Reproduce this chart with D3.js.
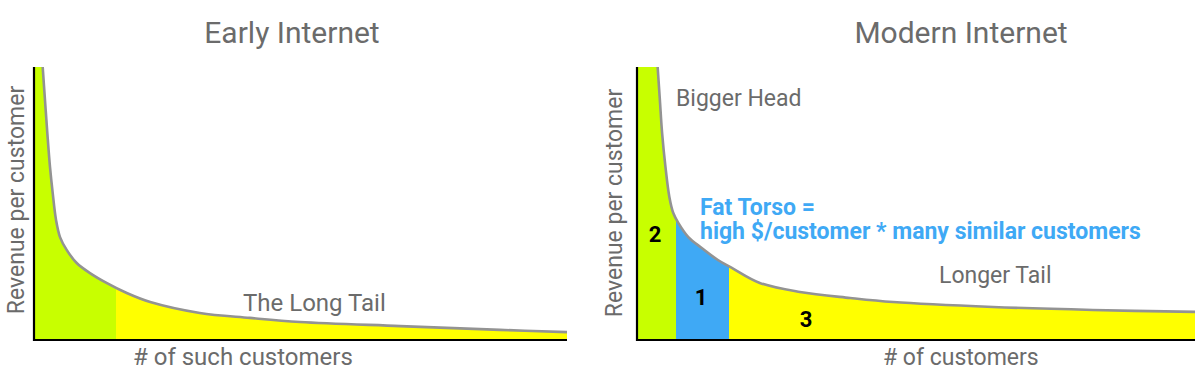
<!DOCTYPE html>
<html><head><meta charset="utf-8">
<script src="https://cdn.jsdelivr.net/npm/d3@7"></script>
<style>body{margin:0;background:#fff}text{font-family:Roboto,"Noto Sans",sans-serif}</style>
</head><body>
<svg id="c" width="1200" height="388"></svg>
<script>
// Early Internet curve (customer rank %, revenue %)
const earlyX = [1.63, 2.06, 2.5, 3.0, 3.51, 4.13, 4.88, 6.13, 8.01, 10.5, 13.6, 17.4, 21.8, 31.1, 40.5, 49.9, 68.7, 87.4, 100];
const earlyY = [100, 87.9, 75.8, 63.4, 53.8, 44.0, 37.7, 33.0, 28.2, 24.5, 20.9, 17.2, 13.9, 9.9, 8.1, 6.6, 5.1, 3.7, 2.9];
const earlySplits = [15.4];
// Modern Internet curve
const modernX = [3.7, 4.1, 4.5, 5.1, 5.8, 6.5, 7.4, 9.2, 11.6, 14.5, 17.0, 22.0, 29.2, 38.2, 45.9, 63.8, 81.7, 100];
const modernY = [100, 87.9, 75.8, 63.4, 52.4, 46.5, 42.9, 37.7, 33.7, 29.3, 26.4, 20.9, 17.6, 15.4, 13.9, 12.1, 11.0, 10.3];
const modernSplits = [7.0, 16.5];
const titles = ["Early Internet", "Modern Internet"];
const xLabels = ["# of such customers", "# of customers"];
const yLabel = "Revenue per customer";

const svg = d3.select("#c");
const gray = "#6b6b6b";

function panel(cfg){
  const x = d3.scaleLinear().domain([0,100]).range([cfg.x0, cfg.x1]);
  const y = d3.scaleLinear().domain([0,100]).range([340, 67]);
  const data = cfg.xs.map((v,i)=>[v, cfg.ys[i]]);
  const g = svg.append("g");
  const bounds = [cfg.xs[0], ...cfg.splits, 100];
  const curve = d3.curveCatmullRom.alpha(0.5);
  const area = d3.area().x(d=>x(d[0])).y0(y(0)).y1(d=>y(d[1])).curve(curve);
  const line = d3.line().x(d=>x(d[0])).y(d=>y(d[1])).curve(curve);
  for(let i=0;i<bounds.length-1;i++){
    const id = cfg.id + "clip" + i;
    const a = i===0 ? 0 : bounds[i];
    svg.append("clipPath").attr("id", id).append("rect")
      .attr("x", x(a)).attr("y", 0).attr("width", x(bounds[i+1]) - x(a)).attr("height", 400);
    g.append("path").datum(data).attr("d", area).attr("fill", cfg.colors[i]).attr("clip-path", `url(#${id})`);
    if(i===0){
      g.append("rect").attr("x", x(0)).attr("y", y(100)).attr("width", x(cfg.xs[0]) - x(0) + 0.5).attr("height", y(0)-y(100)).attr("fill", cfg.colors[0]);
    }
  }
  g.append("path").datum(data).attr("d", line).attr("fill","none").attr("stroke","#939393").attr("stroke-width",2.6);
  // axes
  g.append("line").attr("x1", x(0)).attr("x2", x(0)).attr("y1", y(100)).attr("y2", y(0)+1).attr("stroke","#000").attr("stroke-width",2.2);
  g.append("line").attr("x1", x(0)-1).attr("x2", x(100)).attr("y1", y(0)).attr("y2", y(0)).attr("stroke","#000").attr("stroke-width",2.2);
  g.append("text").attr("x", cfg.tx).attr("y", 43).attr("text-anchor","middle").attr("font-size",30).attr("fill",gray).text(cfg.title);
  g.append("text").attr("x", cfg.xlx).attr("y", 365).attr("font-size",cfg.xls).attr("fill",gray).text(cfg.xlabel);
  g.append("text").attr("transform", `translate(${cfg.ylx},${cfg.yly}) rotate(-90)`).attr("text-anchor","middle").attr("font-size",23).attr("fill",gray).text(yLabel);
  return {g, x, y};
}

const L = panel({id:"l", x0:34, x1:567, xs:earlyX, ys:earlyY, splits:earlySplits, colors:["#c8ff00","#ffff00"], title:titles[0], tx:292, xlabel:xLabels[0], xlx:133, xls:24, ylx:24, yly:200});
L.g.append("text").attr("x",243).attr("y",311).attr("font-size",24).attr("fill",gray).text("The Long Tail");

const R = panel({id:"r", x0:637, x1:1195, xs:modernX, ys:modernY, splits:modernSplits, colors:["#c8ff00","#3fa9f5","#ffff00"], title:titles[1], tx:961, xlabel:xLabels[1], xlx:883, xls:23, ylx:622, yly:203});
R.g.append("text").attr("x",676).attr("y",106).attr("font-size",23).attr("fill",gray).text("Bigger Head");
R.g.append("text").attr("x",939).attr("y",283).attr("font-size",23).attr("fill",gray).text("Longer Tail");
const blue = "#3fa9f5";
R.g.append("text").attr("x",700).attr("y",215).attr("font-size",23).attr("font-weight","bold").attr("fill",blue).text("Fat Torso =");
R.g.append("text").attr("x",700).attr("y",239).attr("font-size",23).attr("font-weight","bold").attr("fill",blue).text("high $/customer * many similar customers");
const nums = [["2",655,242],["1",701,305],["3",806,327]];
nums.forEach(n=>R.g.append("text").attr("x",n[1]).attr("y",n[2]).attr("text-anchor","middle").attr("font-size",22).attr("font-weight","bold").attr("fill","#000").text(n[0]));
</script>
</body></html>
